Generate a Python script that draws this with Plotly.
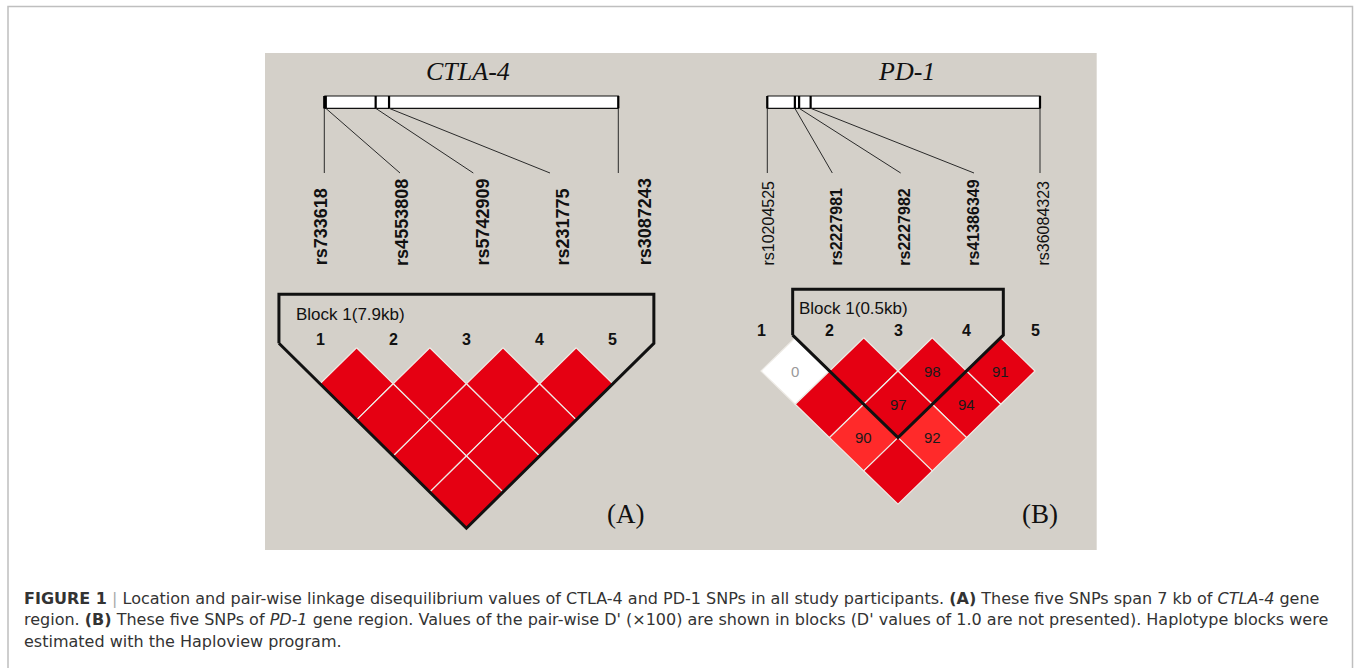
import plotly.graph_objects as go

W, H = 1356, 668

# ---------------- data ----------------
ctla4_title = "CTLA-4"
ctla4_snps = ["rs733618", "rs4553808", "rs5742909", "rs231775", "rs3087243"]
ctla4_snp_bold = [True, True, True, True, True]
ctla4_pos_kb = [0.0, 0.04, 1.38, 1.74, 7.9]
ctla4_pair_i = [1, 2, 3, 4, 1, 2, 3, 1, 2, 1]
ctla4_pair_j = [2, 3, 4, 5, 3, 4, 5, 4, 5, 5]
ctla4_dprime = [100, 100, 100, 100, 100, 100, 100, 100, 100, 100]
ctla4_shade = ["strong"] * 10
ctla4_block = [1, 5]
ctla4_block_label = "Block 1(7.9kb)"

pd1_title = "PD-1"
pd1_snps = ["rs10204525", "rs2227981", "rs2227982", "rs41386349", "rs36084323"]
pd1_snp_bold = [False, True, True, True, False]
pd1_pos_kb = [0.0, 0.91, 1.05, 1.43, 9.0]
pd1_pair_i = [1, 2, 3, 4, 1, 2, 3, 1, 2, 1]
pd1_pair_j = [2, 3, 4, 5, 3, 4, 5, 4, 5, 5]
pd1_dprime = [0, 100, 98, 91, 100, 97, 94, 90, 92, 100]
pd1_shade = ["none", "strong", "strong", "strong", "strong", "strong", "strong", "light", "light", "strong"]
pd1_block = [2, 4]
pd1_block_label = "Block 1(0.5kb)"

caption_lines = [
    "<b>FIGURE 1</b> <span style='color:#aaaaaa'>|</span> Location and pair-wise linkage disequilibrium values of CTLA-4 and PD-1 SNPs in all study participants. <b>(A)</b> These five SNPs span 7 kb of <i>CTLA-4</i> gene",
    "region. <b>(B)</b> These five SNPs of <i>PD-1</i> gene region. Values of the pair-wise D' (×100) are shown in blocks (D' values of 1.0 are not presented). Haplotype blocks were",
    "estimated with the Haploview program.",
]

# ---------------- style / layout ----------------
SHADE_COLORS = {"strong": "#E50012", "light": "#FF2A2A", "none": "#FFFFFF"}
PANEL_BG = "#D4D0C9"

panels = [
    dict(title=ctla4_title, snps=ctla4_snps, bold=ctla4_snp_bold, pos=ctla4_pos_kb,
         pi=ctla4_pair_i, pj=ctla4_pair_j, dp=ctla4_dprime, shade=ctla4_shade,
         block=ctla4_block, block_label=ctla4_block_label, tag="(A)",
         title_x=468, bar_x0=324.3, bar_x1=618.3,
         line_end_x=[324.3, 400, 473.3, 550, 618.3],
         label_x=[321, 401.7, 483.3, 563.3, 645], label_size=18,
         m_x0=320, m_dx=73.2, y0=347.7, h=36.1, num_dy=-8.4,
         corner_dy=4.4, block_top=294.3, block_label_dx=15, block_label_y=314,
         tag_x=625.8),
    dict(title=pd1_title, snps=pd1_snps, bold=pd1_snp_bold, pos=pd1_pos_kb,
         pi=pd1_pair_i, pj=pd1_pair_j, dp=pd1_dprime, shade=pd1_shade,
         block=pd1_block, block_label=pd1_block_label, tag="(B)",
         title_x=906, bar_x0=767.3, bar_x1=1040,
         line_end_x=[767.3, 832.3, 900.7, 974, 1040],
         label_x=[768.3, 836.7, 905, 974, 1043.3], label_size=16,
         m_x0=761, m_dx=68.5, y0=337.7, h=33.3, num_dy=-7.7,
         corner_dy=2.5, block_top=289.3, block_label_dx=4, block_label_y=308.3,
         tag_x=1040.3),
]

BAR_Y0, BAR_Y1, LINE_END_Y = 96, 108.3, 173
LABEL_BOTTOM = 267.7
TITLE_Y = 71.7
TAG_Y = 513.7

fig = go.Figure()
annotations = []
shapes = []

# outer frame and grey panel
shapes.append(dict(type="rect", xref="x", yref="y", x0=8, y0=6.5, x1=1352.5, y1=700,
                   line=dict(color="#BFBFBF", width=1.5), fillcolor="rgba(0,0,0,0)", layer="below"))
shapes.append(dict(type="rect", xref="x", yref="y", x0=265, y0=53, x1=1096.7, y1=550,
                   line=dict(width=0), fillcolor=PANEL_BG, layer="below"))

for p in panels:
    n = len(p["snps"])
    # gene bar
    bx0, bx1 = p["bar_x0"], p["bar_x1"]
    fig.add_trace(go.Scatter(x=[bx0, bx1, bx1, bx0, bx0], y=[BAR_Y0, BAR_Y0, BAR_Y1, BAR_Y1, BAR_Y0],
                             mode="lines", fill="toself", fillcolor="white",
                             line=dict(color="#111111", width=1.2), hoverinfo="skip", showlegend=False))
    span = p["pos"][-1] - p["pos"][0]
    snp_x = [bx0 + (v - p["pos"][0]) / span * (bx1 - bx0) for v in p["pos"]]
    for k in range(n):
        # tick in bar
        fig.add_trace(go.Scatter(x=[snp_x[k], snp_x[k]], y=[BAR_Y0, BAR_Y1], mode="lines",
                                 line=dict(color="#000000", width=2.2), hoverinfo="skip", showlegend=False))
        # connector
        fig.add_trace(go.Scatter(x=[snp_x[k], p["line_end_x"][k]], y=[BAR_Y1, LINE_END_Y], mode="lines",
                                 line=dict(color="#2a2a2a", width=1), hoverinfo="skip", showlegend=False))
        # SNP label
        name = p["snps"][k]
        txt = f"<b>{name}</b>" if p["bold"][k] else name
        annotations.append(dict(x=p["label_x"][k], y=LABEL_BOTTOM, xref="x", yref="y", text=txt,
                                textangle=-90, showarrow=False, xanchor="center", yanchor="bottom",
                                font=dict(family="Liberation Sans, Arial", size=p["label_size"], color="#111111")))
    # title
    annotations.append(dict(x=p["title_x"], y=TITLE_Y, xref="x", yref="y", text=f"<i>{p['title']}</i>",
                            showarrow=False, xanchor="center", yanchor="middle",
                            font=dict(family="Liberation Serif, Times New Roman", size=26, color="#111111")))
    # marker positions
    mx = [p["m_x0"] + k * p["m_dx"] for k in range(n)]
    w = p["m_dx"] / 2
    h = p["h"]
    y0 = p["y0"]
    for k in range(n):
        annotations.append(dict(x=mx[k], y=y0 + p["num_dy"], xref="x", yref="y", text=f"<b>{k + 1}</b>",
                                showarrow=False, xanchor="center", yanchor="middle",
                                font=dict(family="Liberation Sans, Arial", size=16, color="#111111")))
    # LD diamonds
    for i, j, d, s in zip(p["pi"], p["pj"], p["dp"], p["shade"]):
        cx = (mx[i - 1] + mx[j - 1]) / 2
        cy = y0 + (j - i) * h
        fig.add_trace(go.Scatter(x=[cx, cx + w, cx, cx - w, cx], y=[cy - h, cy, cy + h, cy, cy - h],
                                 mode="lines", fill="toself", fillcolor=SHADE_COLORS[s],
                                 line=dict(color="#EEEBE6", width=1.2), hoverinfo="skip", showlegend=False))
        if d < 100:
            annotations.append(dict(x=cx, y=cy, xref="x", yref="y", text=str(d), showarrow=False,
                                    xanchor="center", yanchor="middle",
                                    font=dict(family="Liberation Sans, Arial", size=15,
                                              color="#999999" if d == 0 else "#1a1a1a")))
    # block outline
    b0, b1 = p["block"]
    bcx = (mx[b0 - 1] + mx[b1 - 1]) / 2
    bot_y = y0 + (b1 - b0 + 1) * h
    cor_y = y0 - p["corner_dy"]
    off = (bot_y - cor_y) * w / h
    top = p["block_top"]
    xs = [bcx - off, bcx - off, bcx + off, bcx + off, bcx, bcx - off]
    ys = [cor_y, top, top, cor_y, bot_y, cor_y]
    fig.add_trace(go.Scatter(x=xs, y=ys, mode="lines", line=dict(color="#111111", width=3),
                             hoverinfo="skip", showlegend=False))
    annotations.append(dict(x=bcx - off + p["block_label_dx"], y=p["block_label_y"], xref="x", yref="y",
                            text=p["block_label"], showarrow=False, xanchor="left", yanchor="middle",
                            font=dict(family="Liberation Sans, Arial", size=17, color="#111111")))
    # panel tag
    annotations.append(dict(x=p["tag_x"], y=TAG_Y, xref="x", yref="y", text=p["tag"], showarrow=False,
                            xanchor="center", yanchor="middle",
                            font=dict(family="Liberation Serif, Times New Roman", size=27, color="#111111")))

# caption
cap_y = [598, 619.5, 641]
for line, yy in zip(caption_lines, cap_y):
    annotations.append(dict(x=22, y=yy, xref="x", yref="y", text=line, showarrow=False,
                            xanchor="left", yanchor="middle",
                            font=dict(family="DejaVu Sans", size=16, color="#333333")))

fig.update_layout(
    width=W, height=H, margin=dict(l=0, r=0, t=0, b=0),
    paper_bgcolor="white", plot_bgcolor="white",
    xaxis=dict(range=[0, W], visible=False, fixedrange=True),
    yaxis=dict(range=[H, 0], visible=False, fixedrange=True),
    shapes=shapes, annotations=annotations, showlegend=False,
)

fig.write_html("out.html", config={"displayModeBar": False},
               post_script="document.body.style.margin='0';")
